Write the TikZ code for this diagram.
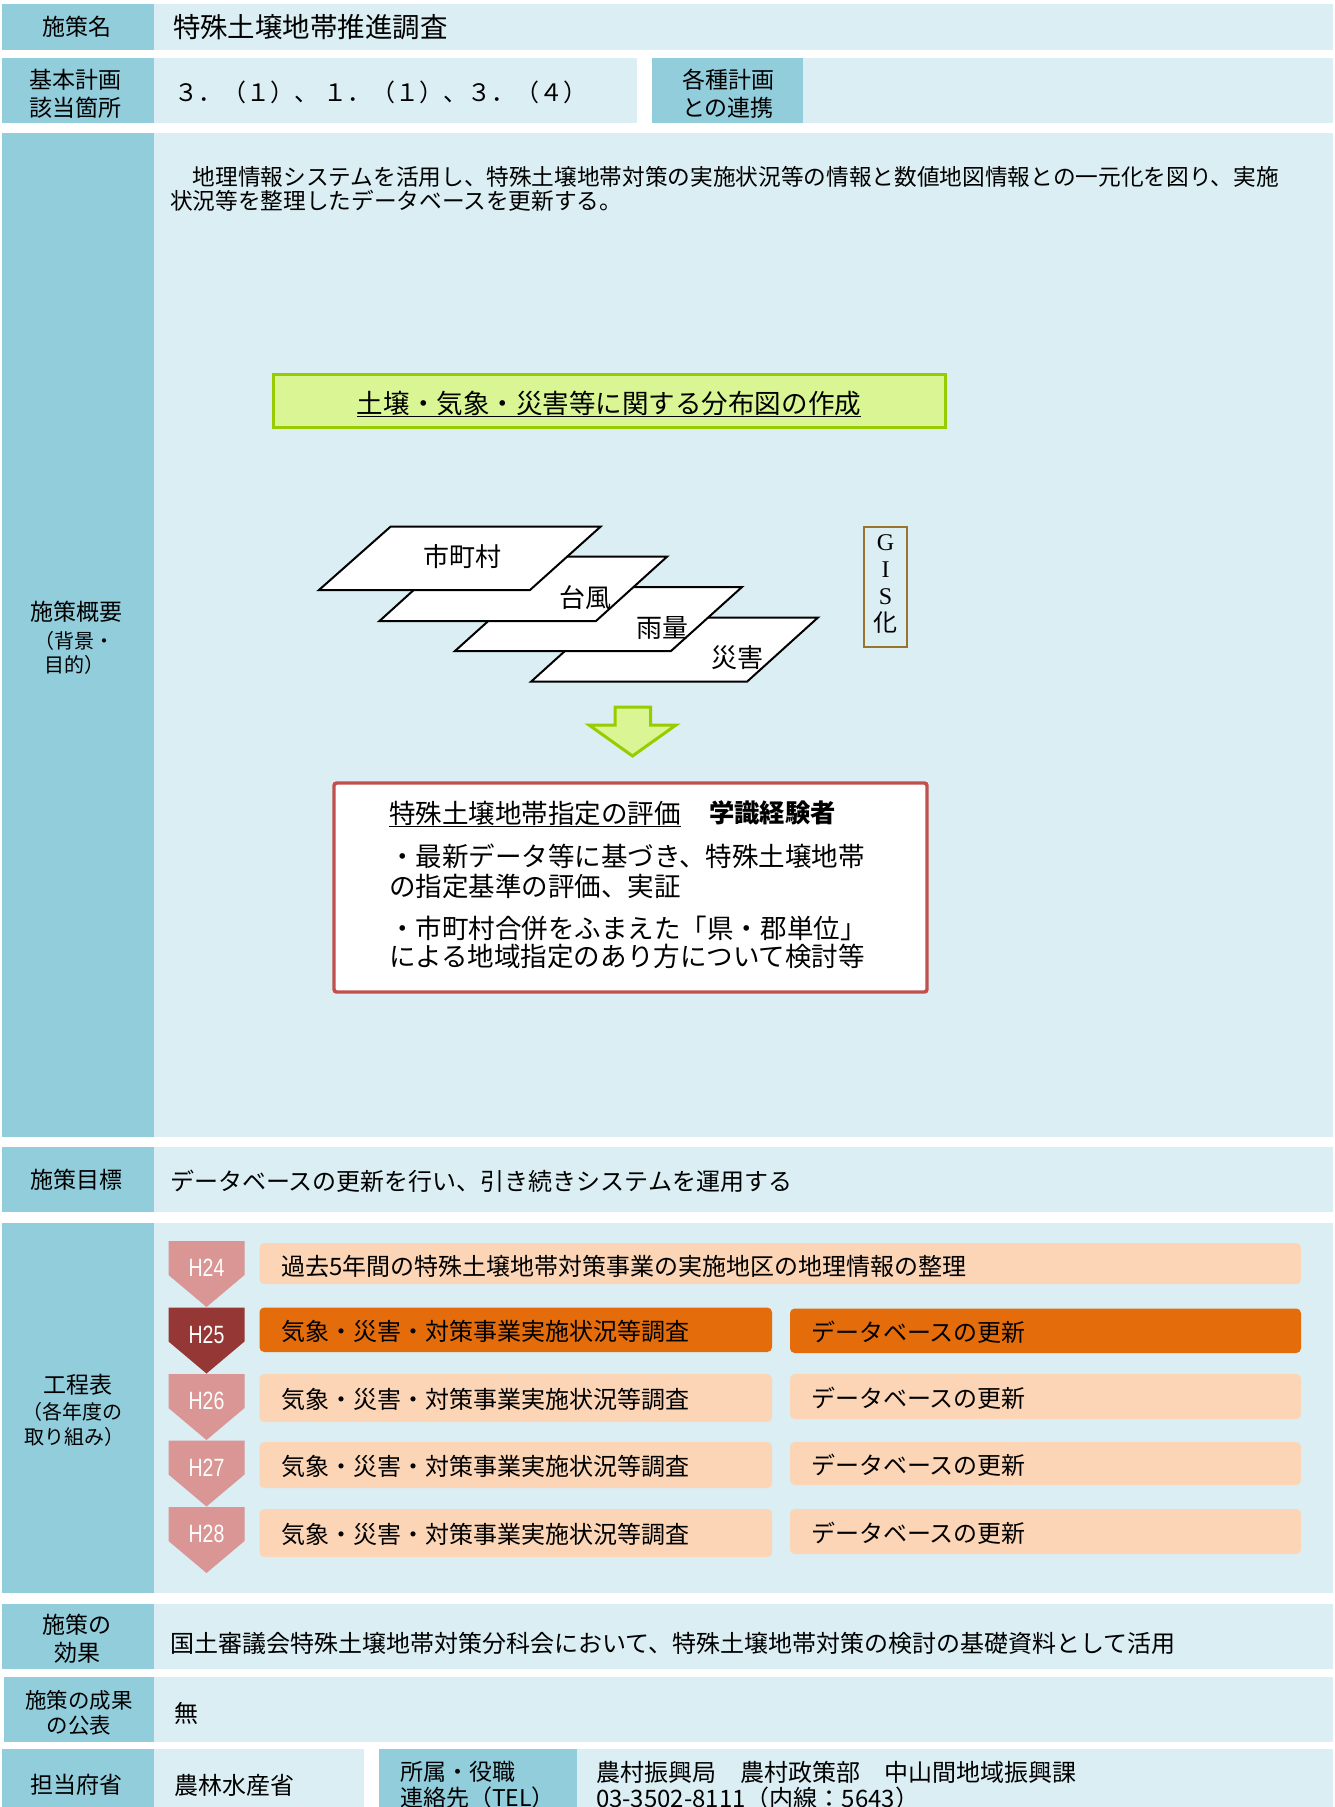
\documentclass[tikz,border=0pt]{standalone}
\usepackage{fontspec}
\setmainfont{Noto Sans CJK JP}
\newfontfamily\hfont[FakeStretch=0.78]{Liberation Sans}
\newfontfamily\gserif{Liberation Serif}
\usetikzlibrary{calc}
\definecolor{labc}{HTML}{92CDDC}
\definecolor{cellc}{HTML}{DAEEF3}
\definecolor{arrL}{HTML}{D99694}
\definecolor{arrD}{HTML}{953735}
\definecolor{barL}{HTML}{FBD5B5}
\definecolor{barD}{HTML}{E46C0A}
\definecolor{grnB}{HTML}{99CC00}
\definecolor{grnF}{HTML}{D9F594}
\definecolor{redB}{HTML}{C0504D}
\definecolor{gisB}{HTML}{98742C}
\tikzset{
  lab/.style={fill=labc},
  cell/.style={fill=cellc},
  tx/.style={inner sep=0pt, outer sep=0pt, text=black},
  f20/.style={font=\fontsize{15pt}{17pt}\selectfont},
  f215/.style={font=\fontsize{16.1pt}{18pt}\selectfont},
  f225/.style={font=\fontsize{17pt}{19pt}\selectfont},
  f23/.style={font=\fontsize{17.25pt}{20pt}\selectfont},
  f24/.style={font=\fontsize{18pt}{21pt}\selectfont},
  f26/.style={font=\fontsize{19.5pt}{22pt}\selectfont},
  f265/.style={font=\fontsize{19.9pt}{22pt}\selectfont},
  f275/.style={font=\fontsize{20.6pt}{23pt}\selectfont},
  hlab/.style={tx, text=white, font=\hfont\fontsize{18.75pt}{20pt}\selectfont},
  sheet/.style={draw=black, fill=white, line width=1.5pt, line join=miter},
  barlight/.style={fill=barL, rounded corners=3.5pt},
  bardark/.style={fill=barD, rounded corners=3.5pt},
}
\begin{document}
\begin{tikzpicture}[x=0.75pt, y=-0.75pt]
\useasboundingbox (0,0) rectangle (1335,1807);
\clip (0,0) rectangle (1335,1807);
\fill[white] (0,0) rectangle (1335,1807);

% ---------- row 1
\fill[lab] (2,3.5) rectangle (154,49.5);
\fill[cell] (154,3.5) rectangle (1333,49.5);
\node[tx,f23] (l1) at (77,26.5) {施策名};
\node[tx,f275,anchor=west] (title) at (173,27) {特殊土壌地帯推進調査};

% ---------- row 2
\fill[lab] (2,58) rectangle (154,122.5);
\fill[cell] (154,58) rectangle (637,122.5);
\fill[lab] (652,58) rectangle (803,122.5);
\fill[cell] (803,58) rectangle (1333,122.5);
\node[tx,f23] (l2a) at (75,80) {基本計画};
\node[tx,f23] (l2b) at (75,108) {該当箇所};
\node[tx,f24,anchor=west] (nums) at (174,92) {３．（１）、 １．（１）、３．（４）};
\node[tx,f23] (l2c) at (728,80) {各種計画};
\node[tx,f23] (l2d) at (728,108) {との連携};

% ---------- row 3
\fill[lab] (2,133) rectangle (154,1137);
\fill[cell] (154,133) rectangle (1333,1137);
\node[tx,f23] (l3) at (77,612) {施策概要};
\node[tx,f20,anchor=west] (l3b) at (34,641) {（背景・};
\node[tx,f20,anchor=west] (l3c) at (44,665) {目的）};
\node[tx,f225,anchor=west] (p1) at (170,177) {　地理情報システムを活用し、特殊土壌地帯対策の実施状況等の情報と数値地図情報との一元化を図り、実施};
\node[tx,f225,anchor=west] (p2) at (170,200.5) {状況等を整理したデータベースを更新する。};

% green title box
\draw[draw=grnB, fill=grnF, line width=2.25pt] (273,374) rectangle (945.5,427);
\node[tx,f265] (gt) at (609,403) {土壌・気象・災害等に関する分布図の作成};
\draw[line width=1.1pt] ($(gt.base west)+(0,3.5)$) -- ($(gt.base east)+(0,3.5)$);

% stacked sheets
\draw[sheet] (531,681.7) -- (747,681.7) -- (818,617.5) -- (602,617.5) -- cycle;
\node[tx,f26] (s4) at (737,658) {災害};
\draw[sheet] (455,651) -- (671,651) -- (742,587) -- (526,587) -- cycle;
\node[tx,f26] (s3) at (662,628) {雨量};
\draw[sheet] (379.5,621) -- (596,621) -- (667,556.7) -- (450.5,556.7) -- cycle;
\node[tx,f26] (s2) at (585,598) {台風};
\draw[sheet] (319,590) -- (530,590) -- (600.5,526.7) -- (390.5,526.7) -- cycle;
\node[tx,f26] (s1) at (462,557) {市町村};

% GIS box
\draw[draw=gisB, line width=1.9pt] (864,527) rectangle (907,647);
\node[tx,font=\gserif\fontsize{18pt}{20pt}\selectfont] (g1) at (885.5,543) {G};
\node[tx,font=\gserif\fontsize{18pt}{20pt}\selectfont] (g2) at (885.5,570) {I};
\node[tx,font=\gserif\fontsize{18pt}{20pt}\selectfont] (g3) at (885.5,597) {S};
\node[tx,f24] (g4) at (885.5,623) {化};

% down arrow
\draw[draw=grnB, fill=grnF, line width=2.25pt, line join=miter]
  (615,707) -- (650.5,707) -- (650.5,725) -- (676,725) -- (632.5,756) -- (589,725) -- (615,725) -- cycle;

% red box
\draw[draw=redB, fill=white, line width=2.6pt, rounded corners=2pt] (334,783) rectangle (927,992);
\node[tx,f265,anchor=west] (r1) at (389,813) {特殊土壌地帯指定の評価};
\draw[line width=1.1pt] ($(r1.base west)+(0,3.5)$) -- ($(r1.base east)+(0,3.5)$);
\node[tx,anchor=west,font=\bfseries\fontsize{19pt}{22pt}\selectfont] (r1b) at (709,813) {学識経験者};
\node[tx,f265,anchor=west] (r2) at (389,856) {・最新データ等に基づき、特殊土壌地帯};
\node[tx,f265,anchor=west] (r3) at (389,886) {の指定基準の評価、実証};
\node[tx,f265,anchor=west] (r4) at (389,928) {・市町村合併をふまえた「県・郡単位」};
\node[tx,f265,anchor=west] (r5) at (389,956) {による地域指定のあり方について検討等};

% ---------- row 4
\fill[lab] (2,1147) rectangle (154,1212);
\fill[cell] (154,1147) rectangle (1333,1212);
\node[tx,f23] (l4) at (77,1180) {施策目標};
\node[tx,f24,anchor=west] (t4) at (170,1181) {データベースの更新を行い、引き続きシステムを運用する};

% ---------- row 5 schedule
\fill[lab] (2,1223) rectangle (154,1593);
\fill[cell] (154,1223) rectangle (1333,1593);
\node[tx,f23] (l5) at (78,1385) {工程表};
\node[tx,f20,anchor=west] (l5b) at (22,1412) {（各年度の};
\node[tx,f20,anchor=west] (l5c) at (24,1437) {取り組み）};

\foreach \t/\lab/\col in {1241/H24/arrL, 1307.5/H25/arrD, 1374/H26/arrL, 1440.5/H27/arrL, 1507/H28/arrL} {
  \fill[\col] (168.5,\t) -- (244.5,\t) -- (244.5,\t+34) -- (206.5,\t+66) -- (168.5,\t+34) -- cycle;
  \node[hlab] (y\lab) at (206.5,\t+27) {\lab};
}

\fill[barlight] (259.5,1243) rectangle (1301,1284);
\node[tx,f24,anchor=west] (b24) at (281.5,1266) {過去5年間の特殊土壌地帯対策事業の実施地区の地理情報の整理};

\fill[bardark] (259.5,1307.5) rectangle (772,1352);
\fill[bardark] (790,1308.5) rectangle (1301,1353);
\node[tx,f24,anchor=west] (b25a) at (281.5,1331.5) {気象・災害・対策事業実施状況等調査};
\node[tx,f24,anchor=west] (b25b) at (811,1332) {データベースの更新};

\foreach \yt/\yb/\nm in {1374/1422/b26, 1442/1488/b27, 1509/1557/b28} {
  \fill[barlight] (259.5,\yt) rectangle (772,\yb);
  \fill[barlight] (790,\yt) rectangle (1301,\yb-3);
  \node[tx,f24,anchor=west] (\nm a) at (281.5,{(\yt+\yb)/2+1.5}) {気象・災害・対策事業実施状況等調査};
  \node[tx,f24,anchor=west] (\nm b) at (811,{(\yt+\yb)/2}) {データベースの更新};
}

% ---------- row 6
\fill[lab] (2,1604) rectangle (154,1669);
\fill[cell] (154,1604) rectangle (1333,1669);
\node[tx,f23] (l6a) at (77,1625) {施策の};
\node[tx,f23] (l6b) at (77,1653) {効果};
\node[tx,f24,anchor=west] (t6) at (170,1643) {国土審議会特殊土壌地帯対策分科会において、特殊土壌地帯対策の検討の基礎資料として活用};

% ---------- row 7
\fill[lab] (4,1677) rectangle (154,1742);
\fill[cell] (154,1677) rectangle (1333,1742);
\node[tx,f215] (l7a) at (79,1700) {施策の成果};
\node[tx,f215] (l7b) at (79,1725) {の公表};
\node[tx,f24,anchor=west] (t7) at (174,1713) {無};

% ---------- row 8
\fill[lab] (2,1749) rectangle (154,1807);
\fill[cell] (154,1749) rectangle (364,1807);
\fill[lab] (379,1749) rectangle (577,1807);
\fill[cell] (577,1749) rectangle (1333,1807);
\node[tx,f23] (l8) at (77,1785) {担当府省};
\node[tx,f24,anchor=west] (t8) at (174,1785) {農林水産省};
\node[tx,f23,anchor=west] (l8b) at (400,1772) {所属・役職};
\node[tx,f23,anchor=west] (l8c) at (400,1798) {連絡先（TEL）};
\node[tx,f24,anchor=west] (t8b) at (596,1772) {農村振興局　農村政策部　中山間地域振興課};
\node[tx,f24,anchor=west] (t8c) at (596,1798) {03-3502-8111（内線：5643）};
\end{tikzpicture}
\end{document}
